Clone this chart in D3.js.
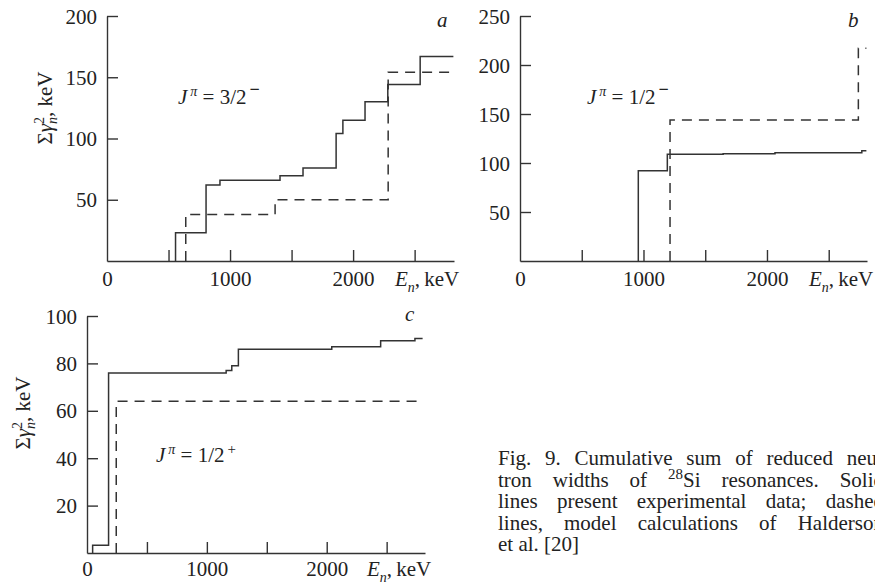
<!DOCTYPE html>
<html>
<head>
<meta charset="utf-8">
<script src="https://cdn.jsdelivr.net/npm/d3@7"></script>
<style>
  html, body { margin: 0; padding: 0; background: #fff; }
  svg { display: block; }
</style>
</head>
<body>
<svg id="fig" width="875" height="587"></svg>
<script>
// ---- Panel a: J^pi = 3/2-  (cumulative sums, keV) ----
const aSolidE   = [557, 805, 918, 1406, 1593, 1862, 1917, 2097, 2282, 2545];
const aSolidSum = [23, 62, 66, 69.5, 76, 104, 115, 130, 144, 167];
const aDashE    = [640, 1366, 2285];
const aDashSum  = [38, 50, 154];
const aEnd      = 2815;
const aYTicks   = [50, 100, 150, 200];

// ---- Panel b: J^pi = 1/2- ----
const bSolidE   = [958, 1193, 1645, 2065, 2768];
const bSolidSum = [92, 109, 109.5, 110.5, 112.5];
const bDashE    = [1215, 2740];
const bDashSum  = [144, 217];
const bEnd      = 2805;
const bYTicks   = [50, 100, 150, 200, 250];

// ---- Panel c: J^pi = 1/2+ ----
const cSolidE   = [47, 180, 1161, 1208, 1263, 2042, 2450, 2736];
const cSolidSum = [3.3, 76, 77, 79, 86, 87, 89.6, 90.5];
const cDashE    = [244];
const cDashSum  = [64];
const cEnd      = 2800;
const cYTicks   = [20, 40, 60, 80, 100];

// shared energy ticks
const eTicks      = [500, 1000, 1500, 2000, 2500];
const eTickLabels = [0, 1000, 2000];

// caption lines; "^28" marks a superscript
const captionLines = [
  "Fig. 9. Cumulative sum of reduced neu-",
  "tron widths of ^28Si resonances. Solid",
  "lines present experimental data; dashed",
  "lines, model calculations of Halderson",
  "et al. [20]"
];

const FONT = "Liberation Serif";
const svg = d3.select("#fig");
const INK = "#333";
const TXT = "#222";
const FS = 21;

function stepPoints(E, S, end) {
  const pts = [[E[0], 0]];
  E.forEach((e, i) => pts.push([e, S[i]]));
  pts.push([end, S[S.length - 1]]);
  return pts;
}

function styleText(sel, size) {
  return sel.attr("font-family", FONT).attr("font-size", size || FS).attr("fill", TXT);
}

function panel(cfg) {
  const g = svg.append("g");
  const x = d3.scaleLinear().domain(cfg.xDomain).range(cfg.xRange);
  const y = d3.scaleLinear().domain(cfg.yDomain).range(cfg.yRange);
  const y0 = cfg.yRange[0];

  // y axis: ticks point inward, labels outside
  const ya = g.append("g").attr("transform", `translate(${cfg.xRange[0]},0)`)
    .call(d3.axisLeft(y).tickValues(cfg.yTicks).tickSize(-11).tickSizeOuter(0).tickPadding(10));
  // x axis ticks (no labels)
  const xa = g.append("g").attr("transform", `translate(0,${y0})`)
    .call(d3.axisBottom(x).tickValues(eTicks).tickSize(-11).tickSizeOuter(0).tickFormat(""));
  // x axis labels
  const xl = g.append("g").attr("transform", `translate(0,${y0})`)
    .call(d3.axisBottom(x).tickValues(eTickLabels).tickSize(0).tickFormat(d3.format("d")));
  xl.select(".domain").remove();
  xl.selectAll("text").attr("dy", null).attr("y", cfg.labelDy);

  [ya, xa, xl].forEach(a => {
    a.attr("font-family", FONT).attr("font-size", FS);
    a.selectAll("path, line").attr("stroke", INK).attr("stroke-width", 1.4);
    a.selectAll("text").attr("fill", TXT);
  });
  ya.selectAll("text").attr("dy", "0.34em");

  const line = d3.line().x(d => x(d[0])).y(d => y(d[1])).curve(d3.curveStepAfter);
  g.append("path").attr("d", line(stepPoints(cfg.solidE, cfg.solidSum, cfg.end)))
    .attr("fill", "none").attr("stroke", INK).attr("stroke-width", 1.5);
  g.append("path").attr("d", line(stepPoints(cfg.dashE, cfg.dashSum, cfg.end)))
    .attr("fill", "none").attr("stroke", INK).attr("stroke-width", 1.5)
    .attr("stroke-dasharray", "10,7");

  // E_n, keV
  const et = styleText(g.append("text")).attr("x", cfg.eLabel[0]).attr("y", cfg.eLabel[1]);
  et.append("tspan").attr("font-style", "italic").text("E");
  et.append("tspan").attr("font-style", "italic").attr("dy", 6).attr("font-size", 14).text("n");
  et.append("tspan").attr("dy", -6).text(",\u2009keV");

  // panel letter
  styleText(g.append("text")).attr("x", cfg.letter[0]).attr("y", cfg.letter[1])
    .attr("font-style", "italic").text(cfg.letterText);

  // J^pi annotation
  const jt = styleText(g.append("text")).attr("x", cfg.jpi[0]).attr("y", cfg.jpi[1]);
  jt.append("tspan").attr("font-style", "italic").text("J");
  jt.append("tspan").attr("font-style", "italic").attr("dx", 3).attr("dy", -8)
    .attr("font-size", 14).text("\u03c0");
  jt.append("tspan").attr("dy", 8).text(" = " + cfg.spin);
  const par = jt.append("tspan").attr("dx", 3).attr("dy", -8).attr("font-size", 15).text(cfg.parity);
  if (cfg.parity === "\u2212") par.attr("font-weight", "bold").attr("font-size", 18).attr("dy", -9);

  // y axis title
  if (cfg.yTitle) {
    const yt = styleText(g.append("text"))
      .attr("transform", `translate(${cfg.yTitle[0]},${cfg.yTitle[1]}) rotate(-90)`)
      .attr("text-anchor", "middle");
    yt.append("tspan").text("\u03a3");
    yt.append("tspan").attr("font-style", "italic").text("\u03b3");
    yt.append("tspan").attr("dy", -8).attr("font-size", 14).text("2");
    yt.append("tspan").attr("font-style", "italic").attr("dx", -7).attr("dy", 13)
      .attr("font-size", 14).text("n");
    yt.append("tspan").attr("dy", -5).text(", keV");
  }
}

panel({
  xDomain: [0, 2820], xRange: [107, 454],
  yDomain: [0, 200], yRange: [261, 16], yTicks: aYTicks,
  solidE: aSolidE, solidSum: aSolidSum, dashE: aDashE, dashSum: aDashSum, end: aEnd,
  labelDy: 25, eLabel: [395, 286], letter: [437, 27], letterText: "a",
  jpi: [178, 104], spin: "3/2", parity: "\u2212", yTitle: [52, 108]
});

panel({
  xDomain: [0, 2810], xRange: [520, 867],
  yDomain: [0, 250], yRange: [261, 16], yTicks: bYTicks,
  solidE: bSolidE, solidSum: bSolidSum, dashE: bDashE, dashSum: bDashSum, end: bEnd,
  labelDy: 25, eLabel: [809, 286], letter: [848, 27], letterText: "b",
  jpi: [587, 104], spin: "1/2", parity: "\u2212", yTitle: null
});

panel({
  xDomain: [0, 2820], xRange: [87, 425],
  yDomain: [0, 100], yRange: [553, 316], yTicks: cYTicks,
  solidE: cSolidE, solidSum: cSolidSum, dashE: cDashE, dashSum: cDashSum, end: cEnd,
  labelDy: 23, eLabel: [367, 576], letter: [405, 321], letterText: "c",
  jpi: [156, 462], spin: "1/2", parity: "+", yTitle: [30, 413]
});

// ---- caption: one text per line, justified with word-spacing ----
const capX = 498, capRight = 884, capY0 = 465, capLead = 21.5;
const cap = svg.append("g");
captionLines.forEach((str, li) => {
  const t = styleText(cap.append("text")).attr("x", capX).attr("y", capY0 + li * capLead);
  const m = str.match(/^(.*)\^(\d+)(.*)$/);
  if (m) {
    t.append("tspan").text(m[1]);
    t.append("tspan").attr("dy", -8).attr("font-size", 15).text(m[2]);
    t.append("tspan").attr("dy", 8).text(m[3]);
  } else {
    t.text(str);
  }
  if (li === captionLines.length - 1) return;
  const spaces = (str.match(/ /g) || []).length;
  const natural = t.node().getComputedTextLength();
  t.style("word-spacing", ((capRight - capX - natural) / spaces) + "px");
});
</script>
</body>
</html>
